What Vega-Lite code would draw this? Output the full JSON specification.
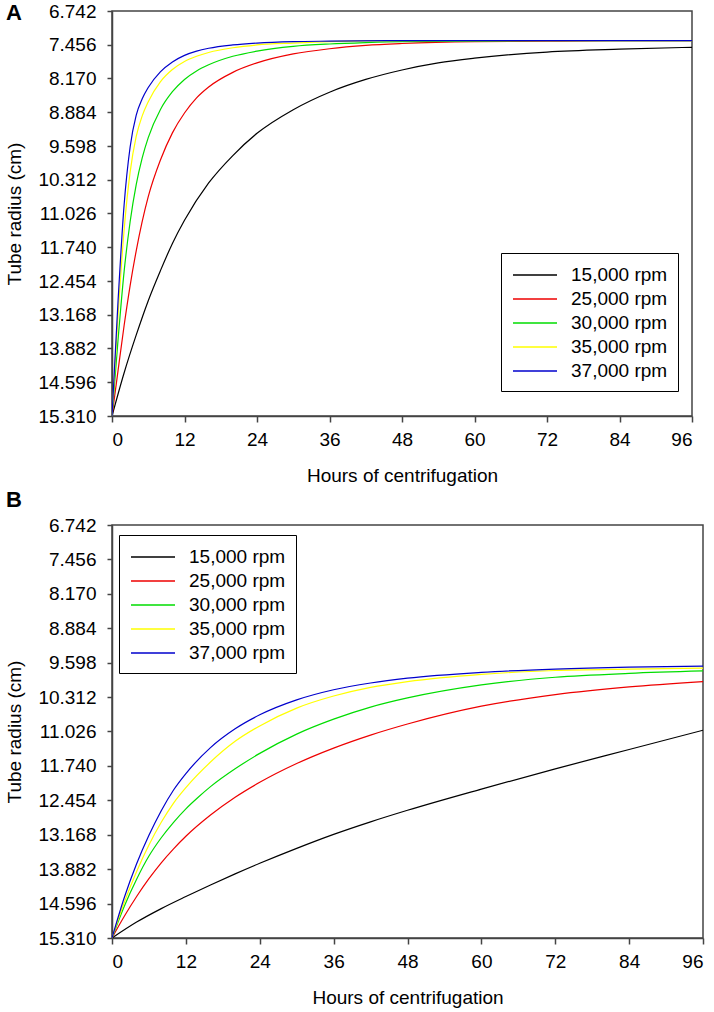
{
  "$schema": "https://vega.github.io/schema/vega-lite/v6.json",
  "background": "white",
  "padding": {"left": 5, "top": 1, "right": 10, "bottom": 5},
  "spacing": 2,
  "resolve": {"scale": {"color": "independent"}, "legend": {"color": "independent"}},
  "config": {
    "font": "Liberation Sans",
    "view": {"stroke": "#444", "strokeWidth": 1.5},
    "axis": {
      "labelFont": "Liberation Sans", "titleFont": "Liberation Sans",
      "labelFontSize": 19, "titleFontSize": 19, "titleFontWeight": "normal",
      "labelColor": "black", "titleColor": "black",
      "domainColor": "#444", "domainWidth": 1.5,
      "tickColor": "#444", "tickWidth": 1.5, "grid": false
    },
    "legend": {
      "title": null,
      "labelFont": "Liberation Sans", "labelFontSize": 19, "labelColor": "black",
      "symbolType": "M-2,0H2", "symbolSize": 484, "symbolStrokeWidth": 1.3,
      "symbolOffset": 12, "labelOffset": 24, "rowPadding": 2, "padding": 10,
      "strokeColor": "black", "fillColor": "white"
    }
  },
  "datasets": {
    "A": [
      {"rpm": "15,000 rpm", "hours": 0, "radius": 15.31},
      {"rpm": "15,000 rpm", "hours": 2, "radius": 14.4},
      {"rpm": "15,000 rpm", "hours": 4, "radius": 13.6},
      {"rpm": "15,000 rpm", "hours": 6, "radius": 12.87},
      {"rpm": "15,000 rpm", "hours": 8, "radius": 12.24},
      {"rpm": "15,000 rpm", "hours": 10, "radius": 11.66},
      {"rpm": "15,000 rpm", "hours": 12, "radius": 11.17},
      {"rpm": "15,000 rpm", "hours": 16, "radius": 10.38},
      {"rpm": "15,000 rpm", "hours": 20, "radius": 9.8},
      {"rpm": "15,000 rpm", "hours": 24, "radius": 9.33},
      {"rpm": "15,000 rpm", "hours": 30, "radius": 8.83},
      {"rpm": "15,000 rpm", "hours": 36, "radius": 8.46},
      {"rpm": "15,000 rpm", "hours": 42, "radius": 8.19},
      {"rpm": "15,000 rpm", "hours": 48, "radius": 7.99},
      {"rpm": "15,000 rpm", "hours": 54, "radius": 7.84},
      {"rpm": "15,000 rpm", "hours": 60, "radius": 7.74},
      {"rpm": "15,000 rpm", "hours": 72, "radius": 7.61},
      {"rpm": "15,000 rpm", "hours": 84, "radius": 7.55},
      {"rpm": "15,000 rpm", "hours": 96, "radius": 7.51},

      {"rpm": "25,000 rpm", "hours": 0, "radius": 15.31},
      {"rpm": "25,000 rpm", "hours": 1, "radius": 14.35},
      {"rpm": "25,000 rpm", "hours": 2, "radius": 13.4},
      {"rpm": "25,000 rpm", "hours": 3, "radius": 12.55},
      {"rpm": "25,000 rpm", "hours": 4, "radius": 11.82},
      {"rpm": "25,000 rpm", "hours": 6, "radius": 10.67},
      {"rpm": "25,000 rpm", "hours": 8, "radius": 9.9},
      {"rpm": "25,000 rpm", "hours": 10, "radius": 9.32},
      {"rpm": "25,000 rpm", "hours": 12, "radius": 8.9},
      {"rpm": "25,000 rpm", "hours": 14, "radius": 8.58},
      {"rpm": "25,000 rpm", "hours": 16, "radius": 8.35},
      {"rpm": "25,000 rpm", "hours": 20, "radius": 8.04},
      {"rpm": "25,000 rpm", "hours": 24, "radius": 7.84},
      {"rpm": "25,000 rpm", "hours": 30, "radius": 7.65},
      {"rpm": "25,000 rpm", "hours": 36, "radius": 7.54},
      {"rpm": "25,000 rpm", "hours": 42, "radius": 7.47},
      {"rpm": "25,000 rpm", "hours": 48, "radius": 7.43},
      {"rpm": "25,000 rpm", "hours": 60, "radius": 7.39},
      {"rpm": "25,000 rpm", "hours": 72, "radius": 7.38},
      {"rpm": "25,000 rpm", "hours": 84, "radius": 7.37},
      {"rpm": "25,000 rpm", "hours": 96, "radius": 7.37},

      {"rpm": "30,000 rpm", "hours": 0, "radius": 15.31},
      {"rpm": "30,000 rpm", "hours": 1, "radius": 13.7},
      {"rpm": "30,000 rpm", "hours": 2, "radius": 12.26},
      {"rpm": "30,000 rpm", "hours": 3, "radius": 11.2},
      {"rpm": "30,000 rpm", "hours": 4, "radius": 10.42},
      {"rpm": "30,000 rpm", "hours": 5, "radius": 9.85},
      {"rpm": "30,000 rpm", "hours": 6, "radius": 9.42},
      {"rpm": "30,000 rpm", "hours": 8, "radius": 8.83},
      {"rpm": "30,000 rpm", "hours": 10, "radius": 8.45},
      {"rpm": "30,000 rpm", "hours": 12, "radius": 8.19},
      {"rpm": "30,000 rpm", "hours": 14, "radius": 8.01},
      {"rpm": "30,000 rpm", "hours": 16, "radius": 7.88},
      {"rpm": "30,000 rpm", "hours": 20, "radius": 7.7},
      {"rpm": "30,000 rpm", "hours": 24, "radius": 7.59},
      {"rpm": "30,000 rpm", "hours": 30, "radius": 7.49},
      {"rpm": "30,000 rpm", "hours": 36, "radius": 7.44},
      {"rpm": "30,000 rpm", "hours": 42, "radius": 7.41},
      {"rpm": "30,000 rpm", "hours": 48, "radius": 7.39},
      {"rpm": "30,000 rpm", "hours": 60, "radius": 7.38},
      {"rpm": "30,000 rpm", "hours": 72, "radius": 7.37},
      {"rpm": "30,000 rpm", "hours": 84, "radius": 7.37},
      {"rpm": "30,000 rpm", "hours": 96, "radius": 7.37},

      {"rpm": "35,000 rpm", "hours": 0, "radius": 15.31},
      {"rpm": "35,000 rpm", "hours": 1, "radius": 13.18},
      {"rpm": "35,000 rpm", "hours": 2, "radius": 11.38},
      {"rpm": "35,000 rpm", "hours": 3, "radius": 10.15},
      {"rpm": "35,000 rpm", "hours": 4, "radius": 9.4},
      {"rpm": "35,000 rpm", "hours": 5, "radius": 8.96},
      {"rpm": "35,000 rpm", "hours": 6, "radius": 8.66},
      {"rpm": "35,000 rpm", "hours": 8, "radius": 8.24},
      {"rpm": "35,000 rpm", "hours": 10, "radius": 7.98},
      {"rpm": "35,000 rpm", "hours": 12, "radius": 7.81},
      {"rpm": "35,000 rpm", "hours": 14, "radius": 7.7},
      {"rpm": "35,000 rpm", "hours": 16, "radius": 7.62},
      {"rpm": "35,000 rpm", "hours": 20, "radius": 7.52},
      {"rpm": "35,000 rpm", "hours": 24, "radius": 7.46},
      {"rpm": "35,000 rpm", "hours": 30, "radius": 7.42},
      {"rpm": "35,000 rpm", "hours": 36, "radius": 7.39},
      {"rpm": "35,000 rpm", "hours": 48, "radius": 7.37},
      {"rpm": "35,000 rpm", "hours": 60, "radius": 7.37},
      {"rpm": "35,000 rpm", "hours": 72, "radius": 7.37},
      {"rpm": "35,000 rpm", "hours": 84, "radius": 7.37},
      {"rpm": "35,000 rpm", "hours": 96, "radius": 7.37},

      {"rpm": "37,000 rpm", "hours": 0, "radius": 15.31},
      {"rpm": "37,000 rpm", "hours": 1, "radius": 12.88},
      {"rpm": "37,000 rpm", "hours": 2, "radius": 10.85},
      {"rpm": "37,000 rpm", "hours": 3, "radius": 9.62},
      {"rpm": "37,000 rpm", "hours": 4, "radius": 8.95},
      {"rpm": "37,000 rpm", "hours": 5, "radius": 8.6},
      {"rpm": "37,000 rpm", "hours": 6, "radius": 8.36},
      {"rpm": "37,000 rpm", "hours": 8, "radius": 8.03},
      {"rpm": "37,000 rpm", "hours": 10, "radius": 7.82},
      {"rpm": "37,000 rpm", "hours": 12, "radius": 7.68},
      {"rpm": "37,000 rpm", "hours": 14, "radius": 7.59},
      {"rpm": "37,000 rpm", "hours": 16, "radius": 7.53},
      {"rpm": "37,000 rpm", "hours": 20, "radius": 7.46},
      {"rpm": "37,000 rpm", "hours": 24, "radius": 7.42},
      {"rpm": "37,000 rpm", "hours": 30, "radius": 7.39},
      {"rpm": "37,000 rpm", "hours": 36, "radius": 7.38},
      {"rpm": "37,000 rpm", "hours": 48, "radius": 7.37},
      {"rpm": "37,000 rpm", "hours": 60, "radius": 7.37},
      {"rpm": "37,000 rpm", "hours": 72, "radius": 7.37},
      {"rpm": "37,000 rpm", "hours": 84, "radius": 7.37},
      {"rpm": "37,000 rpm", "hours": 96, "radius": 7.37}
    ],
    "B": [
      {"rpm": "15,000 rpm", "hours": 0, "radius": 15.31},
      {"rpm": "15,000 rpm", "hours": 4, "radius": 14.98},
      {"rpm": "15,000 rpm", "hours": 8, "radius": 14.7},
      {"rpm": "15,000 rpm", "hours": 12, "radius": 14.45},
      {"rpm": "15,000 rpm", "hours": 16, "radius": 14.21},
      {"rpm": "15,000 rpm", "hours": 20, "radius": 13.98},
      {"rpm": "15,000 rpm", "hours": 24, "radius": 13.76},
      {"rpm": "15,000 rpm", "hours": 30, "radius": 13.45},
      {"rpm": "15,000 rpm", "hours": 36, "radius": 13.16},
      {"rpm": "15,000 rpm", "hours": 42, "radius": 12.9},
      {"rpm": "15,000 rpm", "hours": 48, "radius": 12.66},
      {"rpm": "15,000 rpm", "hours": 60, "radius": 12.22},
      {"rpm": "15,000 rpm", "hours": 72, "radius": 11.8},
      {"rpm": "15,000 rpm", "hours": 84, "radius": 11.4},
      {"rpm": "15,000 rpm", "hours": 96, "radius": 11.0},

      {"rpm": "25,000 rpm", "hours": 0, "radius": 15.31},
      {"rpm": "25,000 rpm", "hours": 2, "radius": 14.86},
      {"rpm": "25,000 rpm", "hours": 4, "radius": 14.45},
      {"rpm": "25,000 rpm", "hours": 6, "radius": 14.08},
      {"rpm": "25,000 rpm", "hours": 8, "radius": 13.75},
      {"rpm": "25,000 rpm", "hours": 10, "radius": 13.46},
      {"rpm": "25,000 rpm", "hours": 12, "radius": 13.2},
      {"rpm": "25,000 rpm", "hours": 16, "radius": 12.76},
      {"rpm": "25,000 rpm", "hours": 20, "radius": 12.39},
      {"rpm": "25,000 rpm", "hours": 24, "radius": 12.08},
      {"rpm": "25,000 rpm", "hours": 30, "radius": 11.69},
      {"rpm": "25,000 rpm", "hours": 36, "radius": 11.37},
      {"rpm": "25,000 rpm", "hours": 42, "radius": 11.1},
      {"rpm": "25,000 rpm", "hours": 48, "radius": 10.87},
      {"rpm": "25,000 rpm", "hours": 60, "radius": 10.5},
      {"rpm": "25,000 rpm", "hours": 72, "radius": 10.26},
      {"rpm": "25,000 rpm", "hours": 84, "radius": 10.1},
      {"rpm": "25,000 rpm", "hours": 96, "radius": 9.99},

      {"rpm": "30,000 rpm", "hours": 0, "radius": 15.31},
      {"rpm": "30,000 rpm", "hours": 2, "radius": 14.65},
      {"rpm": "30,000 rpm", "hours": 4, "radius": 14.09},
      {"rpm": "30,000 rpm", "hours": 6, "radius": 13.61},
      {"rpm": "30,000 rpm", "hours": 8, "radius": 13.23},
      {"rpm": "30,000 rpm", "hours": 10, "radius": 12.91},
      {"rpm": "30,000 rpm", "hours": 12, "radius": 12.63},
      {"rpm": "30,000 rpm", "hours": 14, "radius": 12.39},
      {"rpm": "30,000 rpm", "hours": 16, "radius": 12.17},
      {"rpm": "30,000 rpm", "hours": 20, "radius": 11.8},
      {"rpm": "30,000 rpm", "hours": 24, "radius": 11.48},
      {"rpm": "30,000 rpm", "hours": 30, "radius": 11.08},
      {"rpm": "30,000 rpm", "hours": 36, "radius": 10.77},
      {"rpm": "30,000 rpm", "hours": 42, "radius": 10.52},
      {"rpm": "30,000 rpm", "hours": 48, "radius": 10.33},
      {"rpm": "30,000 rpm", "hours": 60, "radius": 10.06},
      {"rpm": "30,000 rpm", "hours": 72, "radius": 9.9},
      {"rpm": "30,000 rpm", "hours": 84, "radius": 9.82},
      {"rpm": "30,000 rpm", "hours": 96, "radius": 9.77},

      {"rpm": "35,000 rpm", "hours": 0, "radius": 15.31},
      {"rpm": "35,000 rpm", "hours": 2, "radius": 14.57},
      {"rpm": "35,000 rpm", "hours": 4, "radius": 13.93},
      {"rpm": "35,000 rpm", "hours": 6, "radius": 13.38},
      {"rpm": "35,000 rpm", "hours": 8, "radius": 12.91},
      {"rpm": "35,000 rpm", "hours": 10, "radius": 12.51},
      {"rpm": "35,000 rpm", "hours": 12, "radius": 12.19},
      {"rpm": "35,000 rpm", "hours": 16, "radius": 11.66},
      {"rpm": "35,000 rpm", "hours": 20, "radius": 11.23},
      {"rpm": "35,000 rpm", "hours": 24, "radius": 10.91},
      {"rpm": "35,000 rpm", "hours": 30, "radius": 10.54},
      {"rpm": "35,000 rpm", "hours": 36, "radius": 10.29},
      {"rpm": "35,000 rpm", "hours": 42, "radius": 10.11},
      {"rpm": "35,000 rpm", "hours": 48, "radius": 9.99},
      {"rpm": "35,000 rpm", "hours": 60, "radius": 9.84},
      {"rpm": "35,000 rpm", "hours": 72, "radius": 9.76},
      {"rpm": "35,000 rpm", "hours": 84, "radius": 9.73},
      {"rpm": "35,000 rpm", "hours": 96, "radius": 9.71},

      {"rpm": "37,000 rpm", "hours": 0, "radius": 15.31},
      {"rpm": "37,000 rpm", "hours": 2, "radius": 14.47},
      {"rpm": "37,000 rpm", "hours": 4, "radius": 13.77},
      {"rpm": "37,000 rpm", "hours": 6, "radius": 13.18},
      {"rpm": "37,000 rpm", "hours": 8, "radius": 12.67},
      {"rpm": "37,000 rpm", "hours": 10, "radius": 12.24},
      {"rpm": "37,000 rpm", "hours": 12, "radius": 11.9},
      {"rpm": "37,000 rpm", "hours": 16, "radius": 11.36},
      {"rpm": "37,000 rpm", "hours": 20, "radius": 10.97},
      {"rpm": "37,000 rpm", "hours": 24, "radius": 10.68},
      {"rpm": "37,000 rpm", "hours": 30, "radius": 10.37},
      {"rpm": "37,000 rpm", "hours": 36, "radius": 10.16},
      {"rpm": "37,000 rpm", "hours": 42, "radius": 10.02},
      {"rpm": "37,000 rpm", "hours": 48, "radius": 9.92},
      {"rpm": "37,000 rpm", "hours": 60, "radius": 9.8},
      {"rpm": "37,000 rpm", "hours": 72, "radius": 9.73},
      {"rpm": "37,000 rpm", "hours": 84, "radius": 9.69},
      {"rpm": "37,000 rpm", "hours": 96, "radius": 9.67}
    ]
  },
  "vconcat": [
    {
      "title": {"text": "A", "anchor": "start", "frame": "bounds", "fontSize": 22, "fontWeight": "bold", "color": "black", "offset": -23},
      "width": 580,
      "height": 405,
      "data": {"name": "A"},
      "mark": {"type": "line", "strokeWidth": 1.2, "interpolate": "monotone", "clip": true},
      "encoding": {
        "x": {"field": "hours", "type": "quantitative",
          "scale": {"domain": [0, 96], "nice": false, "zero": false},
          "axis": {"values": [0, 12, 24, 36, 48, 60, 72, 84, 96], "title": "Hours of centrifugation", "tickSize": 6, "labelPadding": 8, "titlePadding": 17}},
        "y": {"field": "radius", "type": "quantitative",
          "scale": {"domain": [6.742, 15.31], "reverse": true, "nice": false, "zero": false},
          "axis": {"values": [6.742, 7.456, 8.17, 8.884, 9.598, 10.312, 11.026, 11.74, 12.454, 13.168, 13.882, 14.596, 15.31], "format": ".3f", "title": "Tube radius (cm)", "tickSize": 5, "labelPadding": 11, "titlePadding": 13}},
        "color": {"field": "rpm", "type": "nominal",
          "scale": {"domain": ["15,000 rpm", "25,000 rpm", "30,000 rpm", "35,000 rpm", "37,000 rpm"], "range": ["#000000", "#ee0000", "#00dd00", "#ffff00", "#0000cc"]},
          "legend": {"orient": "none", "legendX": 389, "legendY": 242}}
      }
    },
    {
      "title": {"text": "B", "anchor": "start", "frame": "bounds", "fontSize": 22, "fontWeight": "bold", "color": "black", "offset": 4},
      "width": 591,
      "height": 413,
      "data": {"name": "B"},
      "mark": {"type": "line", "strokeWidth": 1.2, "interpolate": "monotone", "clip": true},
      "encoding": {
        "x": {"field": "hours", "type": "quantitative",
          "scale": {"domain": [0, 96], "nice": false, "zero": false},
          "axis": {"values": [0, 12, 24, 36, 48, 60, 72, 84, 96], "title": "Hours of centrifugation", "tickSize": 6, "labelPadding": 8, "titlePadding": 17}},
        "y": {"field": "radius", "type": "quantitative",
          "scale": {"domain": [6.742, 15.31], "reverse": true, "nice": false, "zero": false},
          "axis": {"values": [6.742, 7.456, 8.17, 8.884, 9.598, 10.312, 11.026, 11.74, 12.454, 13.168, 13.882, 14.596, 15.31], "format": ".3f", "title": "Tube radius (cm)", "tickSize": 5, "labelPadding": 11, "titlePadding": 13}},
        "color": {"field": "rpm", "type": "nominal",
          "scale": {"domain": ["15,000 rpm", "25,000 rpm", "30,000 rpm", "35,000 rpm", "37,000 rpm"], "range": ["#000000", "#ee0000", "#00dd00", "#ffff00", "#0000cc"]},
          "legend": {"orient": "none", "legendX": 7, "legendY": 10}}
      }
    }
  ]
}
